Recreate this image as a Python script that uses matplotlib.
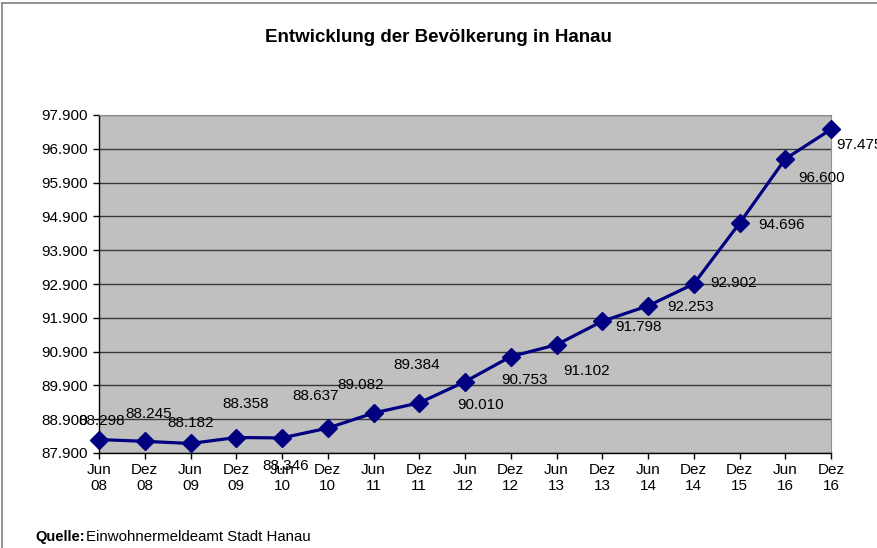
import matplotlib.pyplot as plt
from matplotlib.lines import Line2D

plt.rcParams['font.family'] = ['Liberation Sans', 'DejaVu Sans']

# Stichtage und Einwohnerzahlen (in Tausend, deutsche Schreibweise)
periods = ['Jun\n08', 'Dez\n08', 'Jun\n09', 'Dez\n09', 'Jun\n10', 'Dez\n10',
           'Jun\n11', 'Dez\n11', 'Jun\n12', 'Dez\n12', 'Jun\n13', 'Dez\n13',
           'Jun\n14', 'Dez\n14', 'Dez\n15', 'Jun\n16', 'Dez\n16']
population = [88.298, 88.245, 88.182, 88.358, 88.346, 88.637, 89.082, 89.384,
              90.010, 90.753, 91.102, 91.798, 92.253, 92.902, 94.696, 96.600,
              97.475]
y_ticks = [87.9 + i for i in range(11)]

# label offsets in points (dx, dy) - placed like in the Excel original
label_offsets = [(2, 13), (3, 20), (0, 15), (6.5, 24), (3, -20), (-8.5, 23),
                 (-9.5, 20), (-2, 27), (11, -17), (10, -17), (21.5, -19),
                 (26, -4), (31, -1), (29, 1), (30, -1.5), (26, -14),
                 (3.5, -11.5)]


def fmt(v):
    return f"{v:.3f}"


fig = plt.figure(figsize=(8.77, 5.48), dpi=100)
ax = fig.add_axes([99 / 877, 1 - 453 / 548, 732 / 877, 338 / 548])
ax.set_facecolor('#C0C0C0')

x = list(range(len(periods)))
ax.plot(x, population, color='#000080', linewidth=2.3, marker='D',
        markersize=9, zorder=3, clip_on=False)

last = len(x) - 1
for xi, v, (dx, dy) in zip(x, population, label_offsets):
    ax.annotate(fmt(v), (xi, v), xytext=(dx, dy),
                textcoords='offset points',
                ha='left' if xi == last else 'center', va='center',
                fontsize=11, color='black', annotation_clip=False)

ax.set_xlim(0, last)
ax.set_ylim(87.9, 97.9)
ax.set_yticks(y_ticks)
ax.set_yticklabels([fmt(t) for t in y_ticks], fontsize=11)
ax.set_xticks(x)
ax.set_xticklabels(periods, fontsize=11, linespacing=1.2)
ax.tick_params(axis='both', direction='out', length=4, width=1, color='black')
ax.tick_params(axis='x', pad=3)
ax.tick_params(axis='y', pad=4)

ax.grid(axis='y', color='#383838', linewidth=1)
ax.set_axisbelow(True)
for side in ['left', 'bottom']:
    ax.spines[side].set_color('black')
    ax.spines[side].set_linewidth(1)
ax.spines['top'].set_color('#909090')
ax.spines['right'].set_color('#909090')

fig.text(0.5, 1 - 38 / 548, 'Entwicklung der Bevölkerung in Hanau',
         ha='center', va='center', fontsize=13.5, fontweight='bold')
fig.text(35 / 877, 1 - 537 / 548, 'Quelle:', ha='left', va='center',
         fontsize=10.5, fontweight='bold')
fig.text(86 / 877, 1 - 537 / 548, 'Einwohnermeldeamt Stadt Hanau',
         ha='left', va='center', fontsize=10.8)

# outer chart frame (only top and left visible in the crop)
fig.add_artist(Line2D([2 / 877, 2 / 877], [0, 1 - 3 / 548],
                      transform=fig.transFigure, color='#808080', linewidth=1.2))
fig.add_artist(Line2D([2 / 877, 1], [1 - 3 / 548, 1 - 3 / 548],
                      transform=fig.transFigure, color='#808080', linewidth=1.2))

fig.savefig('out.png', dpi=100)
